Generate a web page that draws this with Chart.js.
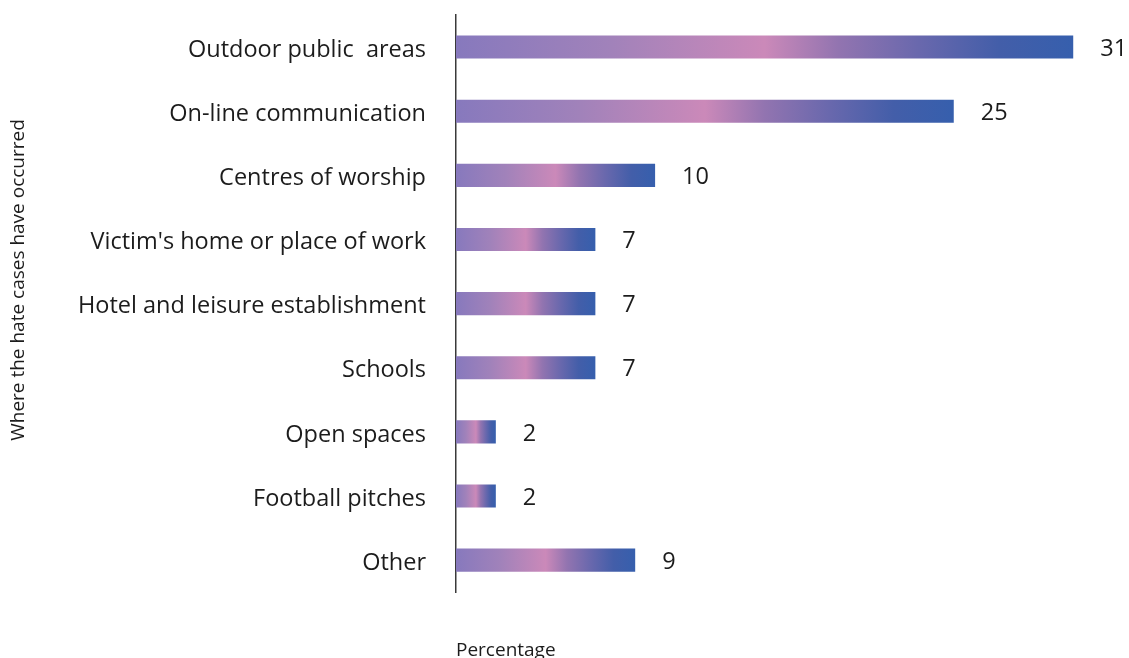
<!DOCTYPE html>
<html>
<head>
<meta charset="utf-8">
<script src="https://cdn.jsdelivr.net/npm/chart.js@4"></script>
<style>
  html, body { margin: 0; padding: 0; background: #fff; }
  #wrap { width: 1129px; height: 658px; position: relative; }
</style>
</head>
<body>
<div id="wrap"><canvas id="hateChart"></canvas></div>
<script>
// ===== Data =====
const places = [
    'Outdoor public  areas',
    'On-line communication',
    'Centres of worship',
    "Victim's home or place of work",
    'Hotel and leisure establishment',
    'Schools',
    'Open spaces',
    'Football pitches',
    'Other'
];
const shares = [31, 25, 10, 7, 7, 7, 2, 2, 9];

const FONT = "'Open Sans', Lato, sans-serif";
const TEXT = '#1c1c1c';

// Purple -> pink -> blue gradient, stretched over each bar's own length
function barGradient(ctx) {
    const chart = ctx.chart;
    const xs = chart.scales.x;
    if (!chart.chartArea || !xs) return '#8a7dbf';
    const x0 = xs.getPixelForValue(0);
    const x1 = xs.getPixelForValue(ctx.raw);
    if (!isFinite(x0) || !isFinite(x1) || x1 - x0 < 1) return '#8a7dbf';
    const g = chart.ctx.createLinearGradient(x0, 0, x1, 0);
    g.addColorStop(0, '#8779bd');
    g.addColorStop(0.25, '#a182ba');
    g.addColorStop(0.5, '#cb89b9');
    g.addColorStop(0.62, '#9274b0');
    g.addColorStop(0.75, '#6968ad');
    g.addColorStop(0.88, '#435ea9');
    g.addColorStop(1, '#365fad');
    return g;
}

// Numbers printed past the end of each bar
const valueLabels = {
    id: 'valueLabels',
    afterDatasetsDraw(chart) {
        const { ctx } = chart;
        const meta = chart.getDatasetMeta(0);
        ctx.save();
        ctx.font = '23.5px ' + FONT;
        ctx.fillStyle = TEXT;
        ctx.textAlign = 'left';
        ctx.textBaseline = 'middle';
        meta.data.forEach((bar, i) => {
            ctx.fillText(String(shares[i]), bar.x + 27, bar.y + 2);
        });
        ctx.restore();
    }
};

// Rotated title for the category axis
const sideTitle = {
    id: 'sideTitle',
    afterDraw(chart) {
        const { ctx } = chart;
        ctx.save();
        ctx.translate(19, 280);
        ctx.rotate(-Math.PI / 2);
        ctx.font = '19px ' + FONT;
        ctx.fillStyle = TEXT;
        ctx.textAlign = 'center';
        ctx.textBaseline = 'middle';
        ctx.fillText('Where the hate cases have occurred', 0, 0);
        ctx.restore();
    }
};

new Chart(document.getElementById('hateChart').getContext('2d'), {
    type: 'bar',
    data: {
        labels: places,
        datasets: [{
            data: shares,
            backgroundColor: barGradient,
            borderWidth: 0,
            categoryPercentage: 1,
            barPercentage: 0.36
        }]
    },
    options: {
        indexAxis: 'y',
        responsive: true,
        maintainAspectRatio: false,
        animation: false,
        layout: { padding: { top: 15, right: 6, bottom: 0, left: 0 } },
        plugins: {
            legend: { display: false },
            tooltip: { enabled: false }
        },
        scales: {
            x: {
                min: 0,
                max: 33.5,
                grid: { display: false, drawTicks: false },
                border: { display: false },
                ticks: { display: false },
                title: {
                    display: true,
                    text: 'Percentage',
                    align: 'start',
                    color: TEXT,
                    font: { family: FONT, size: 19 },
                    padding: { top: 47, bottom: -4 }
                }
            },
            y: {
                afterFit(scale) {
                    scale.width = 456;
                    scale.paddingTop = 0;
                    scale.paddingBottom = 0;
                },
                grid: { display: false, drawTicks: false },
                border: { display: true, color: '#3a3a3a', width: 1.5 },
                ticks: {
                    color: TEXT,
                    padding: 30,
                    labelOffset: 3,
                    font: { family: FONT, size: 23.5 }
                }
            }
        }
    },
    plugins: [valueLabels, sideTitle]
});
</script>
</body>
</html>
